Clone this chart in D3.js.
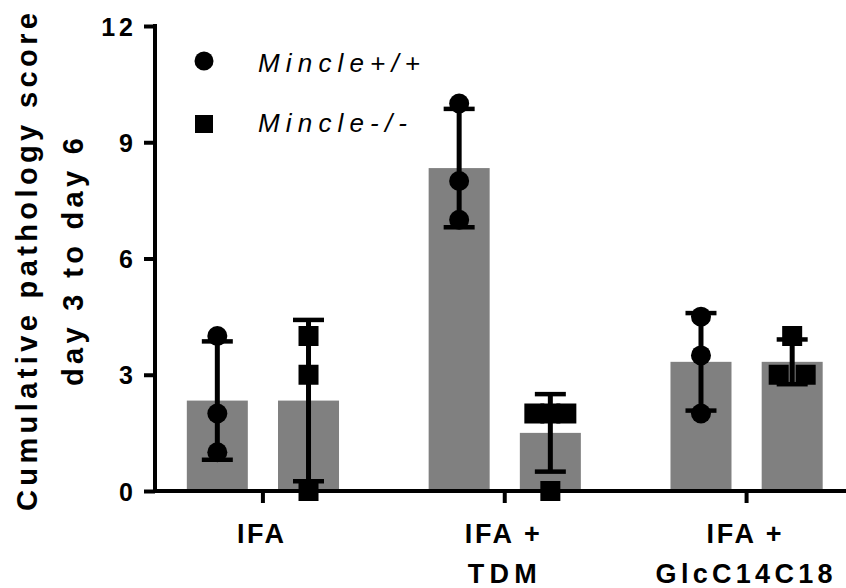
<!DOCTYPE html>
<html><head><meta charset="utf-8">
<script src="https://cdn.jsdelivr.net/npm/d3@7"></script>
<style>
body{margin:0;background:#fff;}
text{font-family:"Liberation Sans",Arial,sans-serif;}
</style></head>
<body><svg id="c" width="846" height="588"></svg>
<script>
// ---- data ----
const groups = ["IFA", "IFA + TDM", "IFA + GlcC14C18"];
const groupLines = [["IFA"], ["IFA +", "TDM"], ["IFA +", "GlcC14C18"]];
const genotypes = ["Mincle+/+", "Mincle-/-"];
const wtValues = [[4, 2, 1], [10, 8, 7], [4.5, 3.5, 2]];
const koValues = [[4, 3, 0], [2, 2, 2, 0], [4, 3, 3]];
const yTicks = [0, 3, 6, 9, 12];
const yTitle = ["Cumulative pathology score", "day 3 to day 6"];

const svg = d3.select("#c");
const y = d3.scaleLinear().domain([0, 12]).range([491, 26]);
const x0 = d3.scaleBand().domain(groups).range([142, 867.5]);
const bw = x0.bandwidth();
const x1 = d3.scaleBand().domain(genotypes).range([bw/2 - 76.1, bw/2 + 76.1]).paddingInner(0.331);

const series = genotypes.map((g, gi) => ({g, vals: gi === 0 ? wtValues : koValues}));
const rows = [];
groups.forEach((grp, i) => series.forEach(s => {
  const v = s.vals[i];
  rows.push({grp, g: s.g, vals: v, mean: d3.mean(v), sd: d3.deviation(v)});
}));
const cx = d => x0(d.grp) + x1(d.g) + x1.bandwidth()/2;

// bars
svg.append("g").selectAll("rect").data(rows).join("rect")
  .attr("x", d => x0(d.grp) + x1(d.g))
  .attr("width", x1.bandwidth())
  .attr("y", d => y(d.mean))
  .attr("height", d => y(0) - y(d.mean))
  .attr("fill", "#808080");

// error bars
const eb = svg.append("g").selectAll("g").data(rows).join("g");
eb.append("line").attr("x1", cx).attr("x2", cx)
  .attr("y1", d => y(d.mean + d.sd)).attr("y2", d => y(d.mean - d.sd))
  .attr("stroke", "#000").attr("stroke-width", 5);
eb.append("line").attr("x1", d => cx(d) - 15.5).attr("x2", d => cx(d) + 15.5)
  .attr("y1", d => y(d.mean + d.sd)).attr("y2", d => y(d.mean + d.sd))
  .attr("stroke", "#000").attr("stroke-width", 4.5);
eb.append("line").attr("x1", d => cx(d) - 15.5).attr("x2", d => cx(d) + 15.5)
  .attr("y1", d => y(d.mean - d.sd)).attr("y2", d => y(d.mean - d.sd))
  .attr("stroke", "#000").attr("stroke-width", 4.5);

// points (duplicates spread horizontally)
const pts = [];
rows.forEach(r => {
  const counts = d3.rollup(r.vals, v => v.length, v => v);
  const seen = new Map();
  r.vals.forEach(v => {
    const n = counts.get(v), k = seen.get(v) || 0; seen.set(v, k + 1);
    const step = n === 2 ? 27 : 16;
    pts.push({r, v, dx: (k - (n - 1)/2) * step});
  });
});
const pg = svg.append("g");
pts.forEach(p => {
  const px = cx(p.r) + p.dx, py = y(p.v);
  if (p.r.g === genotypes[0]) pg.append("circle").attr("cx", px).attr("cy", py).attr("r", 10).attr("fill", "#000");
  else pg.append("rect").attr("x", px - 10).attr("y", py - 10).attr("width", 20).attr("height", 20).attr("fill", "#000");
});

// axes
const yAx = svg.append("g").attr("transform", "translate(155,0)")
  .call(d3.axisLeft(y).tickValues(yTicks).tickSize(11).tickSizeOuter(0).tickFormat(d3.format("d")));
yAx.select(".domain").attr("stroke-width", 4).attr("d", `M0,${y(12)-2}V${y(0)+2}`);
yAx.selectAll(".tick line").attr("stroke-width", 4);
yAx.selectAll(".tick text").attr("x", -18).attr("font-size", 25).attr("font-weight", "bold")
  .attr("letter-spacing", 4).attr("fill", "#000").attr("dy", "0.36em");

const xAx = svg.append("g").attr("transform", `translate(0,${y(0)})`)
  .call(d3.axisBottom(x0).tickSize(12).tickSizeOuter(0).tickFormat(""));
xAx.select(".domain").attr("stroke-width", 4).attr("d", "M153,0H846");
xAx.selectAll(".tick line").attr("stroke-width", 4);

const labelLens = [[47], [75, 69], [75, 177]];
groups.forEach((grp, i) => {
  groupLines[i].forEach((ln, j) => {
    svg.append("text").attr("x", x0(grp) + bw/2 - 2.5).attr("y", 543 + j*40)
      .attr("text-anchor", "middle").attr("font-size", 27).attr("font-weight", "bold")
      .attr("textLength", labelLens[i][j]).attr("lengthAdjust", "spacing").text(ln);
  });
});

// y title
const tl = [{t: yTitle[0], x: 37, len: 498}, {t: yTitle[1], x: 83, len: 248}];
tl.forEach(d => {
  svg.append("text").attr("transform", `translate(${d.x},262) rotate(-90)`)
    .attr("text-anchor", "middle").attr("font-size", 29).attr("font-weight", "bold")
    .attr("textLength", d.len).attr("lengthAdjust", "spacing").text(d.t);
});

// legend
const lg = svg.append("g");
lg.append("circle").attr("cx", 204).attr("cy", 61).attr("r", 9.5).attr("fill", "#000");
lg.append("rect").attr("x", 195).attr("y", 115).attr("width", 18).attr("height", 18).attr("fill", "#000");
[[genotypes[0], 72, 162], [genotypes[1], 131.5, 149]].forEach(([t, yy, len]) => {
  lg.append("text").attr("x", 258).attr("y", yy).attr("font-size", 26).attr("font-style", "italic")
    .attr("textLength", len).attr("lengthAdjust", "spacing").text(t);
});
</script></body></html>
